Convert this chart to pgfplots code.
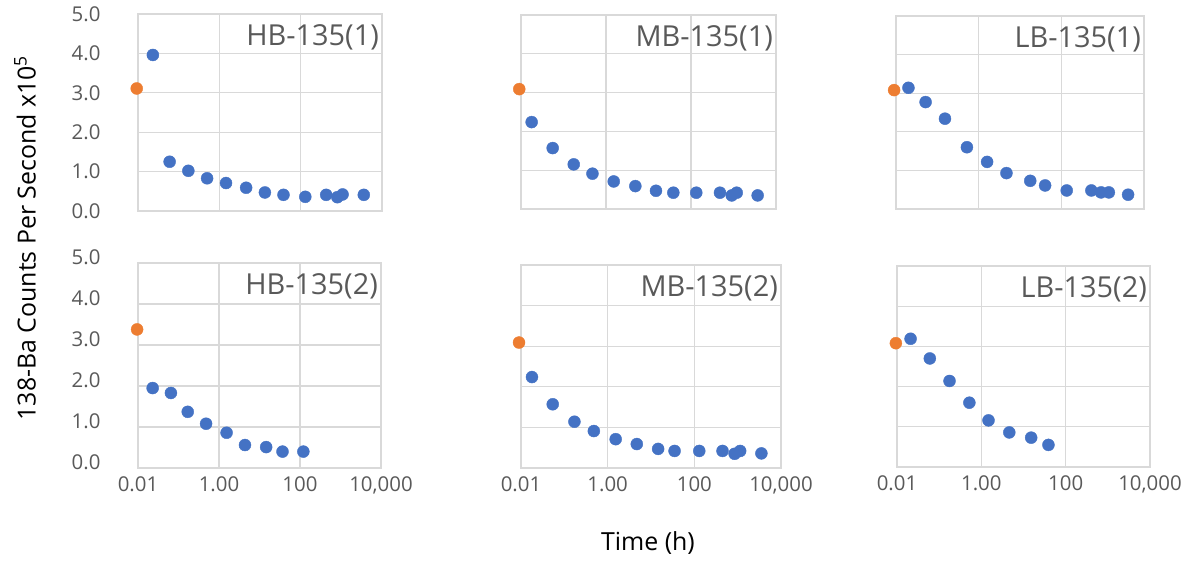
\documentclass[border=0pt]{standalone}
\usepackage{fontspec}
\setmainfont{Open Sans}
\usepackage{pgfplots}
\pgfplotsset{compat=1.18}
\definecolor{gridgray}{HTML}{D9D9D9}
\definecolor{txtgray}{HTML}{595959}
\definecolor{blueM}{HTML}{4472C4}
\definecolor{orangeM}{HTML}{ED7D31}
\pgfplotsset{
 mypanel/.style={
  scale only axis, xmin=0.01, xmax=10000, ymin=0, ymax=5,
  xtick={0.01,1,100,10000}, ytick={0,1,2,3,4,5},
  grid=major,
  major grid style={gridgray, line width=1.3bp},
  axis line style={gridgray, line width=1.3bp},
  tick style={draw=none},
  ticklabel style={font=\fontsize{20.5}{24}\selectfont, text=txtgray},
  /pgf/number format/assume math mode=true,
  clip=false, anchor=south west,
  xticklabels={}, yticklabels={},
 },
 leftcol/.style={yticklabels={0.0,1.0,2.0,3.0,4.0,5.0},
  yticklabel style={xshift=-34bp}},
 bottomrow/.style={xticklabels={0.01,1.00,100,{10,000}},
  xticklabel style={yshift=-5bp}},
 blu/.style={only marks, mark=*, mark size=6bp, color=blueM, mark options={draw=blueM, fill=blueM}},
 ora/.style={only marks, mark=*, mark size=6bp, color=orangeM, mark options={draw=orangeM, fill=orangeM}},
}
\newcommand{\ptitle}[1]{\node[anchor=north east, font=\fontsize{29}{33}\selectfont, text=txtgray, inner sep=0pt] at (rel axis cs:1,1) [xshift=-3bp, yshift=-10bp] {#1};}
\begin{document}
\begin{tikzpicture}
\useasboundingbox (0,0) rectangle (1184bp,561bp);
% HB-135(1)
\begin{semilogxaxis}[mypanel, leftcol, at={(138bp,350bp)}, width=244bp, height=197bp]
\addplot[ora] coordinates {(0.0093,3.11)};
\addplot[blu] coordinates {(0.0232,3.96) (0.060,1.25) (0.173,1.02) (0.50,0.83) (1.46,0.71) (4.56,0.59) (13.2,0.47) (37.8,0.41) (130,0.36) (424,0.41) (798,0.35) (1072,0.42) (3570,0.41)};
\ptitle{HB-135(1)}
\end{semilogxaxis}
% MB-135(1)
\begin{semilogxaxis}[mypanel, at={(521bp,352bp)}, width=255bp, height=194bp]
\addplot[ora] coordinates {(0.0091,3.09)};
\addplot[blu] coordinates {(0.0178,2.24) (0.0556,1.57) (0.174,1.15) (0.48,0.91) (1.52,0.71) (4.9,0.59) (15,0.47) (38.4,0.42) (133,0.42) (480,0.42) (910,0.35) (1190,0.42) (3700,0.35)};
\ptitle{MB-135(1)}
\end{semilogxaxis}
% LB-135(1)
\begin{semilogxaxis}[mypanel, at={(896bp,352bp)}, width=248bp, height=193bp]
\addplot[ora] coordinates {(0.009,3.08)};
\addplot[blu] coordinates {(0.02,3.14) (0.052,2.77) (0.153,2.34) (0.52,1.60) (1.6,1.22) (4.7,0.93) (17.7,0.73) (40.5,0.61) (135,0.48) (533,0.48) (913,0.43) (1410,0.43) (4120,0.37)};
\ptitle{LB-135(1)}
\end{semilogxaxis}
% HB-135(2)
\begin{semilogxaxis}[mypanel, leftcol, bottomrow, yticklabel style={yshift=6bp}, at={(138bp,93bp)}, width=243bp, height=205bp]
\addplot[ora] coordinates {(0.0095,3.38)};
\addplot[blu] coordinates {(0.023,1.95) (0.065,1.83) (0.169,1.37) (0.48,1.08) (1.54,0.86) (4.38,0.56) (14.6,0.51) (37,0.40) (121,0.40)};
\ptitle{HB-135(2)}
\end{semilogxaxis}
% MB-135(2)
\begin{semilogxaxis}[mypanel, bottomrow, at={(521bp,93bp)}, width=260bp, height=203bp]
\addplot[ora] coordinates {(0.009,3.09)};
\addplot[blu] coordinates {(0.0179,2.24) (0.054,1.57) (0.171,1.14) (0.48,0.91) (1.53,0.71) (4.7,0.59) (14.6,0.47) (35,0.42) (130,0.42) (447,0.42) (850,0.35) (1140,0.42) (3530,0.36)};
\ptitle{MB-135(2)}
\end{semilogxaxis}
% LB-135(2)
\begin{semilogxaxis}[mypanel, bottomrow, at={(897bp,94bp)}, width=253bp, height=201bp]
\addplot[ora] coordinates {(0.0094,3.08)};
\addplot[blu] coordinates {(0.021,3.19) (0.06,2.70) (0.176,2.14) (0.52,1.60) (1.48,1.16) (4.6,0.86) (15.2,0.73) (39,0.55)};
\ptitle{LB-135(2)}
\end{semilogxaxis}
\node[rotate=90, font=\fontsize{25}{28}\selectfont, text=black] at (25bp,323bp) {138-Ba Counts Per Second x10\textsuperscript{5}};
\node[font=\fontsize{25}{28}\selectfont, text=black] at (648bp,18bp) {Time (h)};
\end{tikzpicture}
\end{document}
